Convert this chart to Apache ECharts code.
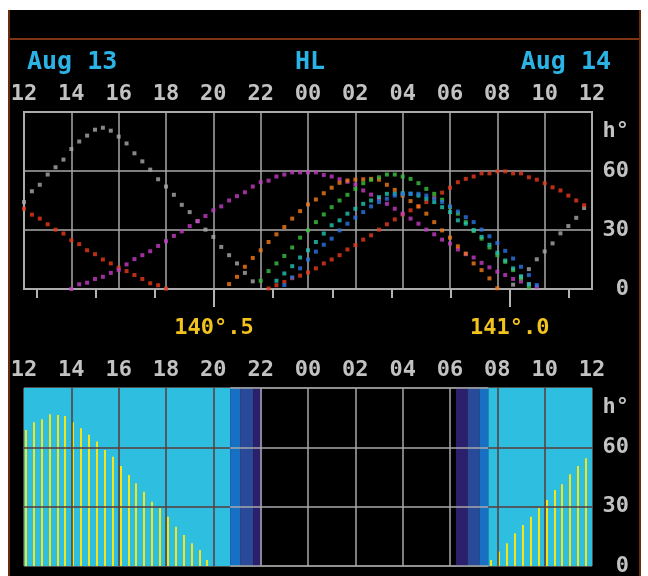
<!DOCTYPE html>
<html><head><meta charset="utf-8">
<script src="https://cdn.jsdelivr.net/npm/echarts@6/dist/echarts.min.js"></script>
<style>html,body{margin:0;padding:0;background:#fff}#c{width:648px;height:576px}</style>
</head><body><div id="c"></div>
<script>
const _ = null;
// header texts
const headerLeft = 'Aug 13', headerMid = 'HL', headerRight = 'Aug 14';
// x axis: hours after 12:00, samples every 20 minutes (index i -> i/3 h)
const hourMin = 0, hourMax = 24, hourInterval = 2;
// altitude axis
const altMin = 0, altMax = 90, altInterval = 30;
const altLabels = [0, 30, 60, 80]; // 80 carries the axis name "h°"
// longitude scale under the upper panel
const lonMin = 140.179, lonMax = 141.139;
const lonTicks = [140.2, 140.3, 140.4, 140.5, 140.6, 140.7, 140.8, 140.9, 141.0, 141.1];
const lonLabels = [140.5, 141.0];

// altitude (deg) of objects, 20-minute steps from 12:00 Aug 13
const greyAlt = [44.2,49.7,53,58.2,61.9,65.8,71.2,75,78,81,
 82,80.5,77.5,74,69,64.9,60.7,55.8,52.1,47.9,
 42.8,39.1,34.5,30.2,26.5,21.4,17.2,13,8.2,3.9,
 _,_,_,_,_,_,_,_,_,_,
 _,_,_,_,_,_,_,_,_,_,
 _,_,_,_,_,_,_,_,_,_,
 _,_,2.2,6,10.1,15.1,19.1,23.2,28.3,32,
 36.2,41.2];
const redAlt = [40.8,37.8,35.8,32.9,30.2,28.2,24.8,22.8,19.7,17.7,
 15,13,10.8,9.1,7.1,5.1,2.9,1.9,0.2,_,
 _,_,_,_,_,_,_,_,_,_,
 _,0.3,1.9,3.6,5.5,6.8,8.4,10.5,13,15,
 17.2,20.1,22.3,25.1,27.3,30.2,32.9,35.4,37.9,40,
 42,44.2,46.5,49,51.5,54.3,56,57.2,58.8,58.8,
 59.8,59.8,58.8,58.8,56.8,55.6,53.8,51.7,50.1,47.5,
 45,42.6];
const magentaAlt = [_,_,_,_,_,_,0,2.4,3.2,5.1,
 6.2,8.2,9.6,12.5,15.2,17.2,19.2,21.9,24.3,27,
 29.3,32,34.5,37.1,40,42,45,47.2,49.2,52.1,
 54.3,55.1,57.2,58.2,59.3,59.3,59.3,59.3,58,57.2,
 55.8,54.5,53.1,50.1,48,45.9,43.3,40.8,38.3,35.8,
 33.2,30.2,27.8,25.1,23.1,20.1,17.7,16,13.3,11,
 8.8,7.1,5.1,3.8,2.5,1.2,_,_,_,_,
 _,_];
const orangeAlt = [_,_,_,_,_,_,_,_,_,_,
 _,_,_,_,_,_,_,_,_,_,
 _,_,_,_,_,_,2.5,6.2,11.3,15.8,
 19.7,23.9,27.8,31.5,35.8,39.6,43,45.5,48.7,51.5,
 54,55.2,55.6,55.8,56,55.6,53,50.4,47.5,44.7,
 42,38.3,34,29.8,26.1,21.7,18,13,9.6,5.4,
 0.4,_,_,_,_,_,_,_,_,_,
 _,_];
const greenAlt = [_,_,_,_,_,_,_,_,_,_,
 _,_,_,_,_,_,_,_,_,_,
 _,_,_,_,_,_,_,_,_,_,
 4.2,9.1,13,16.8,21.1,26.1,29.8,34,37.9,41.6,
 45,47.9,50.9,53.8,55.5,56.8,58.2,58.2,57.2,56,
 53.8,50.9,48.4,45.4,41.6,38.3,34,29.5,25.6,21.1,
 17.2,13.8,9.6,5.4,0.9,_,_,_,_,_,
 _,_];
const tealAlt = [_,_,_,_,_,_,_,_,_,_,
 _,_,_,_,_,_,_,_,_,_,
 _,_,_,_,_,_,_,_,_,_,
 _,_,4.2,7.9,11.6,16,19.7,23.9,28.2,32.4,
 34.9,38.3,40.8,43.3,45,46.7,48.4,48.4,48.7,48.4,
 47.5,45.9,44.2,41.6,39.1,34.9,33.2,30,26.5,22.5,
 18.5,14.5,10.5,6.5,2.5,_,_,_,_,_,
 _,_];
const blueAlt = [_,_,_,_,_,_,_,_,_,_,
 _,_,_,_,_,_,_,_,_,_,
 _,_,_,_,_,_,_,_,_,_,
 _,_,_,2,5.9,10.5,15,19,22.5,25.6,
 29.8,33.2,36.3,39.1,42,44.2,45.9,47.5,48.2,48.5,
 48.4,47.5,46,44.2,42,39.4,36.5,34,30.2,26.8,
 23.4,19.4,15.5,11.3,7.1,2,_,_,_,_,
 _,_];

// sun altitude bars: afternoon from 12:00 (index 0), morning from 07:40 (index 59)
const sunAfternoon = [68.8,72.7,74.2,76.7,76.4,75.9,72.7,69.6,66.3,62.9,58.7,55.3,
 50.6,46,41.8,37.6,32.5,29.2,24.9,19.9,15.7,11.5,8.1,3];
const sunAfternoonStart = 0;
const sunMorning = [3,7.3,11.5,16.5,20.7,24.9,29.5,33.4,38.4,41.3,46.4,50.6,54.5];
const sunMorningStart = 59;

// sky state boundaries (hours after 12:00)
const skyBands = [
  ['day', 0, 8.71], ['civil', 8.71, 9.13], ['nautical', 9.13, 9.68], ['astro', 9.68, 10.06],
  ['astro', 18.25, 18.74], ['nautical', 18.74, 19.24], ['civil', 19.24, 19.62], ['day', 19.62, 24]
];
const duskStart = 8.71, dawnEnd = 19.62;

const skyColor = {day:'#2ebfe0', civil:'#1870c4', nautical:'#294a98', astro:'#2c1f6c'};
const MONO = '"DejaVu Sans Mono", "Liberation Mono", monospace';
const LABEL = '#c2c2c2';
const GRIDC = '#a8a8a8';
const DARKGRID = '#5b3a3a';

function hh(v){ const h = (v + 12) % 24; return (h < 10 ? '0' : '') + h; }
function toPts(arr, start){ const out=[]; arr.forEach((v,i)=>{ if(v!==null) out.push([(i+start)/3, v]); }); return out; }

const hourLabel = {formatter: hh, color: LABEL, fontFamily: MONO, fontSize: 22, fontWeight: 'bold', margin: 7};
const altLabel = {customValues: altLabels, formatter: v => v === 80 ? 'h°' : String(v), align: 'right', margin: 37,
  color: LABEL, fontFamily: MONO, fontSize: 22, fontWeight: 'bold'};

// grid lines of the lower panel drawn over the sky colours
const lowerLines = [];
const ls = (c) => ({color: c, width: 1.5, type: 'solid'});
for (let h = hourMin + hourInterval; h < hourMax; h += hourInterval) {
  const inDay = h <= duskStart || h >= dawnEnd;
  lowerLines.push([{coord: [h, altMin], lineStyle: ls(inDay ? DARKGRID : GRIDC)}, {coord: [h, altMax]}]);
}
for (let a = altMin + altInterval; a < altMax; a += altInterval) {
  lowerLines.push([{coord: [hourMin, a], lineStyle: ls(DARKGRID)}, {coord: [duskStart, a]}]);
  lowerLines.push([{coord: [duskStart, a], lineStyle: ls(GRIDC)}, {coord: [dawnEnd, a]}]);
  lowerLines.push([{coord: [dawnEnd, a], lineStyle: ls(DARKGRID)}, {coord: [hourMax, a]}]);
}
[altMin, altMax].forEach(a => lowerLines.push([{coord: [duskStart, a], lineStyle: ls(GRIDC)}, {coord: [dawnEnd, a]}]));

const dotSeries = [
  ['grey', greyAlt, '#a9a9a9'], ['red', redAlt, '#e8391c'], ['magenta', magentaAlt, '#c63cc6'],
  ['orange', orangeAlt, '#f27a18'], ['green', greenAlt, '#3cc040'], ['teal', tealAlt, '#1fc6b4'], ['blue', blueAlt, '#2a76e6']
].map(([name, arr, color]) => ({
  name, type: 'scatter', xAxisIndex: 0, yAxisIndex: 0, symbol: 'rect', symbolSize: 4,
  itemStyle: {color}, data: toPts(arr, 0), silent: true, z: 3
}));

const option = {
  backgroundColor: '#000',
  animation: false,
  grid: [
    {left: 24, top: 112, width: 568, height: 177, show: true, borderColor: '#b4b4b4', borderWidth: 2, containLabel: false, outerBoundsMode: 'none'},
    {left: 24, top: 388, width: 568, height: 178, show: true, borderColor: '#9a9a9a', borderWidth: 1, containLabel: false, outerBoundsMode: 'none'}
  ],
  xAxis: [
    {gridIndex: 0, type: 'value', position: 'top', min: hourMin, max: hourMax, interval: hourInterval,
     axisLine: {show: false}, axisTick: {show: false}, axisLabel: hourLabel,
     splitLine: {show: true, lineStyle: {color: GRIDC, width: 1.5}}},
    {gridIndex: 0, type: 'value', position: 'bottom', min: lonMin, max: lonMax,
     axisLine: {show: false}, axisTick: {show: true, customValues: lonTicks, length: 9, lineStyle: {color: '#b4b4b4', width: 2}},
     axisLabel: {show: false}, splitLine: {show: false}},
    {gridIndex: 0, type: 'value', position: 'bottom', min: lonMin, max: lonMax,
     axisLine: {show: false}, axisTick: {show: true, customValues: lonLabels, length: 18, lineStyle: {color: '#b4b4b4', width: 2}},
     axisLabel: {customValues: lonLabels, formatter: v => v.toFixed(1).replace('.', '°.'), color: '#f2c21e',
       fontFamily: MONO, fontSize: 22, fontWeight: 'bold', margin: 28},
     splitLine: {show: false}},
    {gridIndex: 1, type: 'value', position: 'top', min: hourMin, max: hourMax, interval: hourInterval,
     axisLine: {show: false}, axisTick: {show: false}, axisLabel: hourLabel, splitLine: {show: false}}
  ],
  yAxis: [
    {gridIndex: 0, type: 'value', position: 'right', min: altMin, max: altMax, interval: altInterval,
     axisLine: {show: false}, axisTick: {show: false}, axisLabel: altLabel,
     splitLine: {show: true, lineStyle: {color: GRIDC, width: 1.5}}},
    {gridIndex: 1, type: 'value', position: 'right', min: altMin, max: altMax, interval: altInterval,
     axisLine: {show: false}, axisTick: {show: false}, axisLabel: altLabel, splitLine: {show: false}}
  ],
  series: [
    ...dotSeries,
    {name: 'sky', type: 'scatter', xAxisIndex: 3, yAxisIndex: 1, data: [], silent: true, z: 1,
     markArea: {silent: true, data: skyBands.map(([k, a, b]) => [{xAxis: a, itemStyle: {color: skyColor[k], opacity: 1}}, {xAxis: b}])}},
    {name: 'sun', type: 'custom', xAxisIndex: 3, yAxisIndex: 1, silent: true, z: 3,
     data: toPts(sunAfternoon, sunAfternoonStart).concat(toPts(sunMorning, sunMorningStart)),
     renderItem: (params, api) => {
       const top = api.coord([api.value(0), api.value(1)]);
       const base = api.coord([api.value(0), 0]);
       const x = Math.round(top[0]) + 1;
       return {type: 'rect', shape: {x: x, y: top[1], width: 2, height: base[1] - top[1]}, style: {fill: '#f4e41c'}};
     }},
    {name: 'lines', type: 'scatter', xAxisIndex: 3, yAxisIndex: 1, data: [], silent: true, z: 4,
     markLine: {silent: true, symbol: 'none', label: {show: false}, animation: false, data: lowerLines}}
  ],
  graphic: [
    {type: 'rect', shape: {x: 0, y: 0, width: 648, height: 10}, style: {fill: '#fff'}},
    {type: 'rect', shape: {x: 0, y: 0, width: 8, height: 576}, style: {fill: '#fff'}},
    {type: 'rect', shape: {x: 641, y: 0, width: 7, height: 576}, style: {fill: '#fff'}},
    {type: 'rect', shape: {x: 8, y: 10, width: 2, height: 566}, style: {fill: '#6b2a0c'}},
    {type: 'rect', shape: {x: 639, y: 10, width: 2, height: 566}, style: {fill: '#6b2a0c'}},
    {type: 'rect', shape: {x: 10, y: 38, width: 629, height: 2}, style: {fill: '#7c3412'}},
    {type: 'text', x: 27, y: 62, style: {text: headerLeft, fill: '#2bb3e6', font: 'bold 25px ' + MONO, textAlign: 'left', textVerticalAlign: 'middle'}},
    {type: 'text', x: 310, y: 62, style: {text: headerMid, fill: '#2bb3e6', font: 'bold 25px ' + MONO, textAlign: 'center', textVerticalAlign: 'middle'}},
    {type: 'text', x: 611, y: 62, style: {text: headerRight, fill: '#2bb3e6', font: 'bold 25px ' + MONO, textAlign: 'right', textVerticalAlign: 'middle'}}
  ]
};
const chart = echarts.init(document.getElementById('c'));
chart.setOption(option);
</script></body></html>
